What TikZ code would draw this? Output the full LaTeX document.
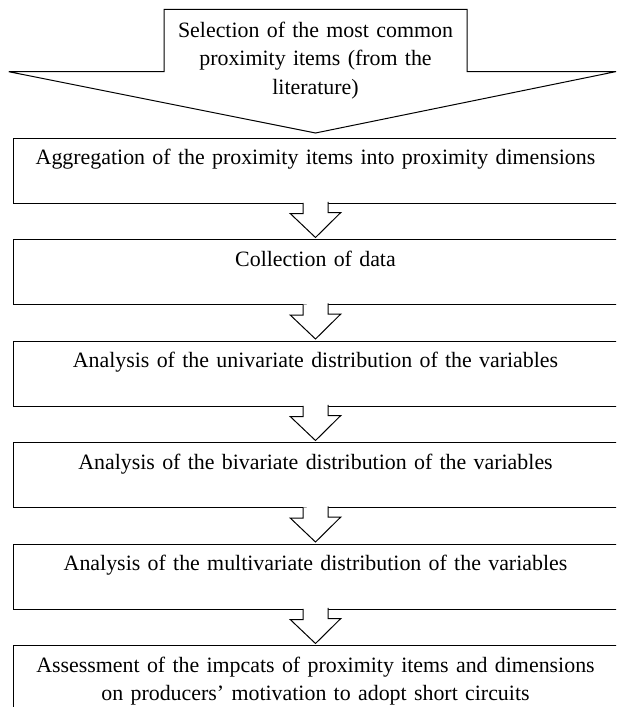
\documentclass[tikz,border=0pt]{standalone}
\usepackage{fontspec}
\setmainfont{Liberation Serif}
\begin{document}
\begin{tikzpicture}[x=1pt,y=-1pt,line width=1pt,
    stage/.style={draw,anchor=north,inner sep=0pt,minimum width=604.5pt,text width=590pt,align=center,text height=26.5pt,text depth=38.5pt,font=\fontsize{21.9}{28.5}\selectfont},
    flow/.style={draw,fill=white,line join=miter}]
    \clip (0,0) rectangle (616,707);
    \node[stage] at (315.5, 137.5) (agg) {Aggregation of the proximity items into proximity dimensions};
    \node[stage] at (315.5, 239) (col) {Collection of data};
    \node[stage] at (315.5, 340.5) (uni) {Analysis of the univariate distribution of the variables};
    \node[stage] at (315.5, 442) (biv) {Analysis of the bivariate distribution of the variables};
    \node[stage] at (315.5, 543.5) (mul) {Analysis of the multivariate distribution of the variables};
    \node[stage] at (315.5, 645) (ass) {Assessment of the impcats of proximity items and dimensions\\on producers’ motivation to adopt short circuits};
    \node[stage,draw=none,minimum width=302pt,text width=298pt,text height=27.4pt,text depth=34pt] at (315.5, 9.3) (sel) {Selection of the most common\\proximity items (from the\\literature)};

    \draw[flow,fill=none] (sel.south west) -- (sel.north west) -- (sel.north east) -- (sel.south east) -- ++(148.5,0) -- ([yshift=4.5pt]agg.north) -- ([xshift=-155.2pt]sel.south west) -- cycle;
    \foreach \a/\b in {agg/col,col/uni,uni/biv,biv/mul,mul/ass}
        \filldraw[flow] ([xshift=-12.5pt,yshift=0.6pt]\a.south) -- ++(0,10.6) -- ++(-12.8,0) -- ([yshift=1.5pt]\b.north) -- ++(25.3,-25) -- ++(-12.8,0) -- ++(0,-10.6);
\end{tikzpicture}
\end{document}
